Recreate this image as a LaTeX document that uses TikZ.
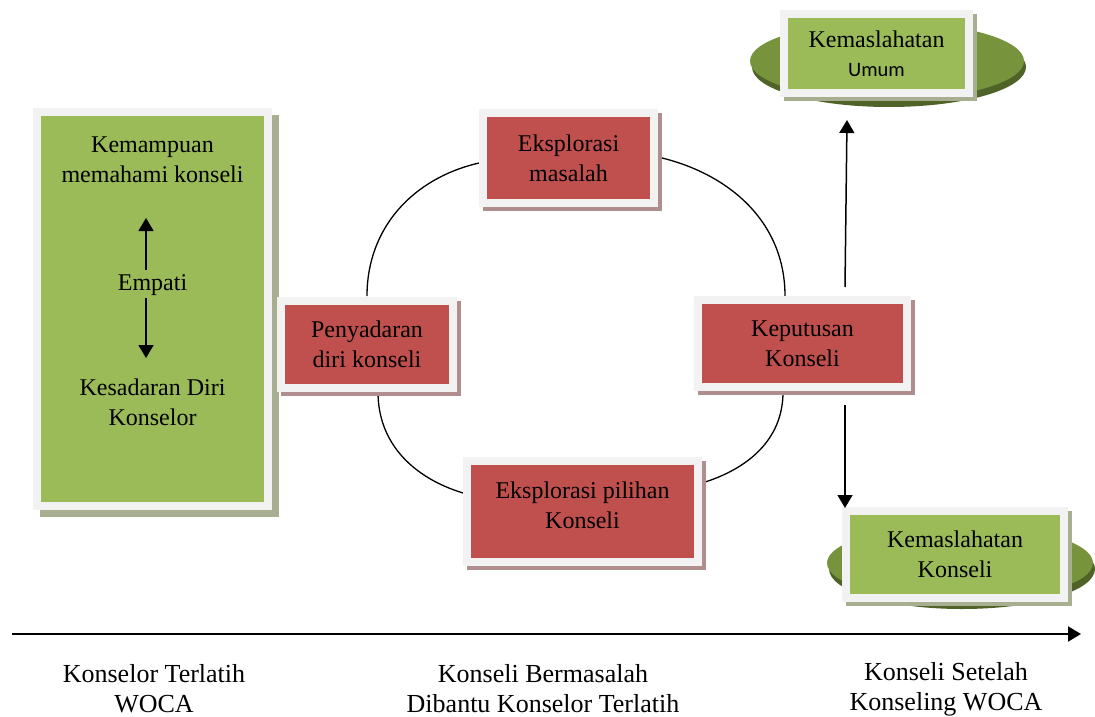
\documentclass[tikz,border=0pt]{standalone}
\usepackage{fontspec}
\setmainfont{Liberation Serif}
\newfontfamily\carlito{Carlito}
\usetikzlibrary{arrows.meta,calc}
\definecolor{gfill}{HTML}{9BBB59}
\definecolor{rfill}{HTML}{C0504D}
\definecolor{framec}{HTML}{F2F2F2}
\definecolor{rshadow}{HTML}{B08E8E}
\definecolor{gshadow}{HTML}{A7AF90}
\definecolor{ellmain}{HTML}{77933C}
\definecolor{elldark}{HTML}{4F6228}
\tikzset{
  boxtext/.style={font=\fontsize{24}{30}\selectfont, align=center},
  bottomtext/.style={font=\fontsize{26}{30}\selectfont, align=center},
  framebox/.style={boxtext, draw=framec, line width=8pt, inner sep=0pt},
  redbox/.style={framebox, fill=rfill,
    preaction={fill=rshadow, draw=rshadow, line width=8pt, transform canvas={xshift=4pt,yshift=-4pt}}},
  greenbox/.style={framebox, fill=gfill,
    preaction={fill=gshadow, draw=gshadow, line width=8pt, transform canvas={xshift=#1,yshift=-#1}}},
  greenbox/.default=4pt,
  arr/.style={-{Triangle[length=13pt,width=15pt]}, line width=1.5pt},
  link/.style={line width=1.3pt},
}
\begin{document}
\begin{tikzpicture}[x=1pt,y=1pt]
\useasboundingbox (0,0) rectangle (1095,-717);

% ellipses behind the result boxes
\fill[elldark] (889,-67) ellipse [x radius=137, y radius=40];
\fill[ellmain] (887,-61) ellipse [x radius=137, y radius=39];
\fill[elldark] (962,-569) ellipse [x radius=133, y radius=40];
\fill[ellmain] (960,-563) ellipse [x radius=133, y radius=38];

% left panel
\node[greenbox=7pt, minimum width=231pt, minimum height=394pt] (lp) at (152.5,-309) {};
\node[boxtext] (t1) at (152.5,-160) {Kemampuan\\memahami konseli};
\node[boxtext] (t2) at (152.5,-285) {Empati};
\node[boxtext] (t3) at (152.5,-402) {Kesadaran Diri\\Konselor};
\coordinate (u0) at (146,-270);
\coordinate (u1) at (146,-218);
\coordinate (d0) at (146,-298);
\coordinate (d1) at (146,-358);
\draw[arr] (u0) -- (u1);
\draw[arr] (d0) -- (d1);

% cycle links
\draw[link] (479,-163) to[out=193,in=90] (367,-296);
\draw[link] (658,-157) to[out=-13,in=90] (785,-296);
\draw[link] (378,-392) to[out=-90,in=163] (463,-493);
\draw[link] (702,-483) to[out=17,in=-90] (783,-392);

% red boxes
\node[redbox, minimum width=171pt, minimum height=90pt] (em) at (568.5,-158) {Eksplorasi\\masalah};
\node[redbox, minimum width=172pt, minimum height=87pt] (pd) at (367,-344.5) {Penyadaran\\diri konseli};
\node[redbox, minimum width=209pt, minimum height=87pt] (kp) at (802.5,-343.5) {Keputusan\\Konseli};
\node[redbox, minimum width=231pt, minimum height=101pt, text depth=12pt] (ep) at (582.5,-511.5) {Eksplorasi pilihan\\Konseli};

% result boxes
\node[greenbox, minimum width=185pt, minimum height=79pt] (ku) at (876.5,-53.5)
  {Kemaslahatan\\[-1pt]{\carlito\fontsize{20.5}{26}\selectfont Umum}};
\node[greenbox, minimum width=218pt, minimum height=87pt] (kk) at (955,-554.5) {Kemaslahatan\\Konseli};

% arrows to results
\coordinate (a0) at (845,-287);
\coordinate (a1) at (847,-120);
\coordinate (b0) at (845,-405);
\coordinate (b1) at (845,-508);
\draw[arr] (a0) -- (a1);
\draw[arr] (b0) -- (b1);

% time axis
\coordinate (x0) at (12,-634);
\coordinate (x1) at (1081,-634);
\draw[-{Triangle[length=13pt,width=15pt]}, line width=2pt] (x0) -- (x1);
\node[bottomtext] (l1) at (154,-689) {Konselor Terlatih\\WOCA};
\node[bottomtext] (l2) at (543,-689) {Konseli Bermasalah\\Dibantu Konselor Terlatih};
\node[bottomtext] (l3) at (946,-689) {Konseli Setelah\\Konseling WOCA};
\end{tikzpicture}
\end{document}
